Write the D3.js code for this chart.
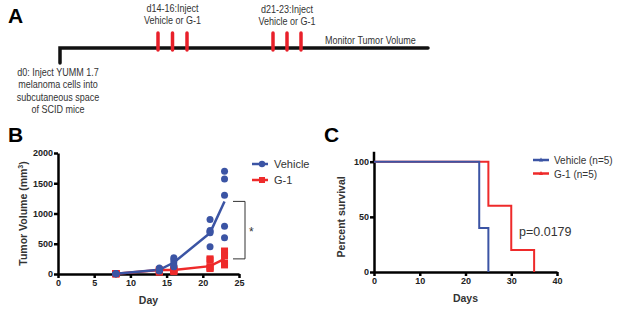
<!DOCTYPE html>
<html>
<head>
<meta charset="utf-8">
<script src="https://cdn.jsdelivr.net/npm/d3@7"></script>
<style>
  body { margin: 0; background: #fff; }
  svg { font-family: "Liberation Sans", Arial, sans-serif; }
  .tick text { font-weight: bold; font-size: 9px; fill: #222; }
  .axis path, .axis line { stroke: #000; }
</style>
</head>
<body>
<div id="wrapper"></div>
<script>
// ---------- data ----------
// panel A timeline (days)
const injectDays = [14, 15, 16, 21, 22, 23]
const timelineKnots = [0, 14, 16, 21, 23, 30]

// panel B tumor volume
const volDays = [8, 14, 16, 21, 23]
const vehiclePoints = [
  [5, 5, 5, 5, 5],
  [100, 80, 70, 60, 50],
  [270, 240, 200, 150, 120],
  [900, 720, 700, 680, 450],
  [1700, 1570, 1300, 790, 600],
]
const g1Points = [
  [5, 5, 5, 5, 5],
  [70, 60, 50, 40, 30],
  [90, 70, 60, 50, 40],
  [250, 230, 120, 100, 90],
  [380, 340, 300, 180, 150],
]
const vehicleMean = [5, 70, 190, 680, 1200]
const g1Mean = [5, 65, 65, 130, 250]
const volTicksX = [0, 5, 10, 15, 20, 25]
const volTicksY = [0, 500, 1000, 1500, 2000]

// panel C survival
const survVehicle = [[0, 100], [23, 100], [23, 40], [25, 40], [25, 0]]
const survG1 = [[0, 100], [25, 100], [25, 60], [30, 60], [30, 20], [35, 20], [35, 0]]
const survTicksX = [0, 10, 20, 30, 40]
const survTicksY = [0, 50, 100]

const blue = "#3b54a4"
const red = "#ee2a2a"

const svg = d3.select("#wrapper").append("svg")
    .attr("width", 617)
    .attr("height", 310)

const panelLetter = (x, y, t) => svg.append("text")
    .attr("x", x).attr("y", y)
    .attr("font-size", 21).attr("font-weight", "bold")
    .text(t)

// ---------- A ----------
panelLetter(8, 23, "A")

const tl = d3.scaleLinear()
    .domain(timelineKnots)
    .range([60, 158, 187, 273, 301, 428])

const gA = svg.append("g")
gA.append("path")
    .attr("d", `M${tl(0)},63 V48 H${tl(30)}`)
    .attr("fill", "none")
    .attr("stroke", "#111")
    .attr("stroke-width", 3.5)
    .attr("stroke-linecap", "round")

gA.selectAll(".inj")
  .data(injectDays)
  .join("line")
    .attr("x1", d => tl(d)).attr("x2", d => tl(d))
    .attr("y1", 33).attr("y2", 50)
    .attr("stroke", "#e8202a")
    .attr("stroke-width", 3.5)
    .attr("stroke-linecap", "round")

// the original uses a condensed face, so squeeze the text horizontally
const textA = (x, y, lines, anchor = "middle") => {
  const t = gA.append("text")
      .attr("transform", `translate(${x},0) scale(0.86,1)`)
      .attr("font-size", 10.5)
      .attr("fill", "#333")
      .attr("text-anchor", anchor)
  lines.forEach((l, i) => t.append("tspan").attr("x", 0).attr("y", y + i * 12.5).text(l))
}
textA(tl(15), 12, ["d14-16:Inject", "Vehicle or G-1"])
textA(tl(22), 13, ["d21-23:Inject", "Vehicle or G-1"])
textA(325, 44, ["Monitor Tumor Volume"], "start")
textA(58, 76, ["d0: Inject YUMM 1.7", "melanoma cells into", "subcutaneous space", "of SCID mice"])

// ---------- B ----------
panelLetter(8, 142, "B")

const xB = d3.scaleLinear().domain([0, 25]).range([58, 239])
const yB = d3.scaleLinear().domain([0, 2000]).range([274, 153])

const gB = svg.append("g")

gB.append("g").attr("class", "axis")
    .attr("transform", `translate(0,${yB(0)})`)
    .call(d3.axisBottom(xB).tickValues(volTicksX).tickSize(4).tickSizeOuter(0).tickPadding(2))
    .call(g => g.selectAll("path, line").attr("stroke-width", 2.5))

gB.append("g").attr("class", "axis")
    .attr("transform", `translate(${xB(0)},0)`)
    .call(d3.axisLeft(yB).tickValues(volTicksY).tickFormat(d3.format("d")).tickSize(4).tickSizeOuter(0).tickPadding(1))
    .call(g => g.selectAll("path, line").attr("stroke-width", 2.5))

const line = d3.line()

const meanLine = (means, color) => gB.append("path")
    .datum(volDays.map((d, i) => [xB(d), yB(means[i])]))
    .attr("d", line)
    .attr("fill", "none")
    .attr("stroke", color)
    .attr("stroke-width", 2.5)

meanLine(g1Mean, red)
meanLine(vehicleMean, blue)

const flatten = pts => pts.flatMap((vals, i) => vals.map(v => [volDays[i], v]))

gB.selectAll(".g1pt")
  .data(flatten(g1Points))
  .join("rect")
    .attr("x", d => xB(d[0]) - 3.5)
    .attr("y", d => yB(d[1]) - 3.5)
    .attr("width", 7).attr("height", 7)
    .attr("fill", red)

gB.selectAll(".vehpt")
  .data(flatten(vehiclePoints))
  .join("circle")
    .attr("cx", d => xB(d[0]))
    .attr("cy", d => yB(d[1]))
    .attr("r", 3.5)
    .attr("fill", blue)

// significance bracket
const bx = 245
gB.append("path")
    .attr("d", `M${bx - 12},${yB(vehicleMean[4])} H${bx} V${yB(g1Mean[4])} H${bx - 12}`)
    .attr("fill", "none").attr("stroke", "#333").attr("stroke-width", 1)
gB.append("text")
    .attr("x", bx + 4).attr("y", 236)
    .attr("font-size", 12).attr("fill", "#333")
    .text("*")

gB.append("text")
    .attr("transform", `translate(27,${yB(1000)}) rotate(-90)`)
    .attr("text-anchor", "middle")
    .attr("font-size", 10.5).attr("font-weight", "bold").attr("fill", "#333")
    .html("Tumor Volume (mm<tspan dy='-4' font-size='7'>3</tspan><tspan dy='4'>)</tspan>")

gB.append("text")
    .attr("x", xB(12.5)).attr("y", 304)
    .attr("text-anchor", "middle")
    .attr("font-size", 10.5).attr("font-weight", "bold").attr("fill", "#333")
    .text("Day")

// legend B
const legB = gB.append("g")
const legItemsB = [
  { name: "Vehicle", color: blue, shape: "circle" },
  { name: "G-1", color: red, shape: "rect" },
]
legItemsB.forEach((d, i) => {
  const y = 164 + i * 16
  legB.append("line").attr("x1", 252).attr("x2", 268).attr("y1", y).attr("y2", y)
      .attr("stroke", d.color).attr("stroke-width", 2.5)
  if (d.shape === "circle") {
    legB.append("circle").attr("cx", 262).attr("cy", y).attr("r", 3.2).attr("fill", d.color)
  } else {
    legB.append("rect").attr("x", 259).attr("y", y - 3).attr("width", 6).attr("height", 6).attr("fill", d.color)
  }
  legB.append("text").attr("x", 274).attr("y", y + 4)
      .attr("font-size", 11).attr("fill", "#333").text(d.name)
})

// ---------- C ----------
panelLetter(324, 142, "C")

const xC = d3.scaleLinear().domain([0, 40]).range([374, 557])
const yC = d3.scaleLinear().domain([0, 100]).range([272, 161.7])

const gC = svg.append("g")

gC.append("g").attr("class", "axis")
    .attr("transform", `translate(0,${yC(0)})`)
    .call(d3.axisBottom(xC).tickValues(survTicksX).tickSize(4).tickSizeOuter(0).tickPadding(2))
    .call(g => g.selectAll("path, line").attr("stroke-width", 2.5))

gC.append("g").attr("class", "axis")
    .attr("transform", `translate(${xC(0)},0)`)
    .call(d3.axisLeft(yC).tickValues(survTicksY).tickSize(4).tickSizeOuter(0).tickPadding(1))
    .call(g => g.selectAll("path, line").attr("stroke-width", 2.5))

// extend y axis above 100
gC.append("line")
    .attr("x1", xC(0)).attr("x2", xC(0))
    .attr("y1", yC(100)).attr("y2", yC(109))
    .attr("stroke", "#000").attr("stroke-width", 2.5)

const survLine = d3.line().x(d => xC(d[0])).y(d => yC(d[1]))

gC.append("path").datum(survG1).attr("d", survLine)
    .attr("fill", "none").attr("stroke", red).attr("stroke-width", 2)
gC.append("path").datum(survVehicle).attr("d", survLine)
    .attr("fill", "none").attr("stroke", blue).attr("stroke-width", 2)

gC.append("text")
    .attr("transform", `translate(345,${yC(50)}) rotate(-90)`)
    .attr("text-anchor", "middle")
    .attr("font-size", 10.5).attr("font-weight", "bold").attr("fill", "#333")
    .text("Percent survival")

gC.append("text")
    .attr("x", xC(20)).attr("y", 302)
    .attr("text-anchor", "middle")
    .attr("font-size", 10.5).attr("font-weight", "bold").attr("fill", "#333")
    .text("Days")

gC.append("text")
    .attr("x", 519).attr("y", 236)
    .attr("font-size", 12.5).attr("fill", "#333")
    .text("p=0.0179")

const legItemsC = [
  { name: "Vehicle (n=5)", color: blue },
  { name: "G-1 (n=5)", color: red },
]
legItemsC.forEach((d, i) => {
  const y = 160 + i * 13.5
  gC.append("line").attr("x1", 533).attr("x2", 549).attr("y1", y).attr("y2", y)
      .attr("stroke", d.color).attr("stroke-width", 2.5)
  gC.append("path").attr("d", `M539,${y + 1.5} L541,${y - 2.5} L543,${y + 1.5} Z`).attr("fill", d.color)
  gC.append("text").attr("x", 554).attr("y", y + 4)
      .attr("font-size", 10).attr("fill", "#333").text(d.name)
})
</script>
</body>
</html>
